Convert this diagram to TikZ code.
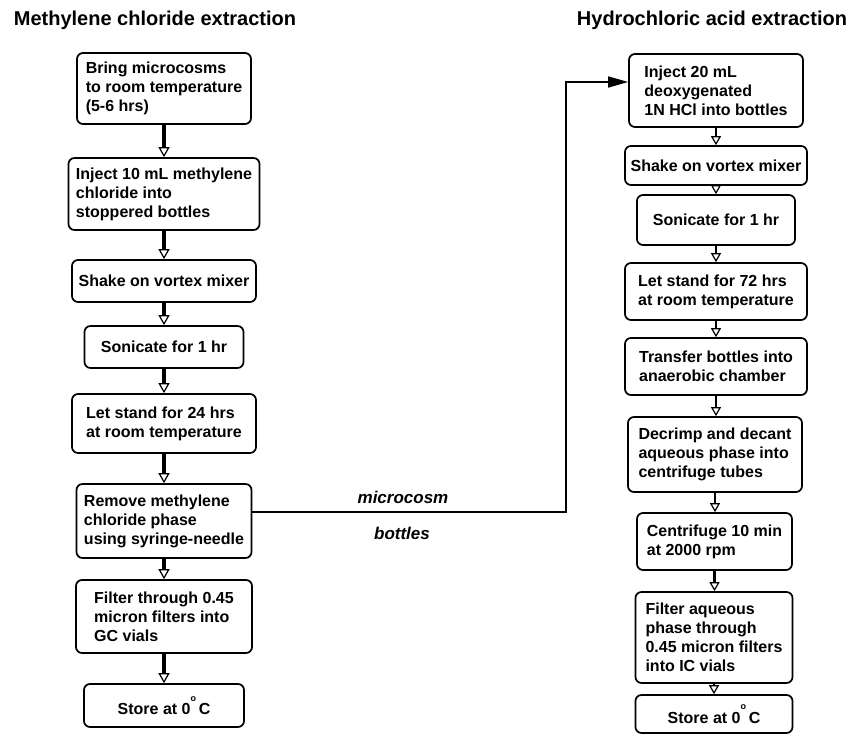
\documentclass[tikz,border=0pt]{standalone}
\usepackage{fontspec}
\setmainfont{Liberation Sans}
\usetikzlibrary{arrows.meta}
\newcommand{\degsym}{\raisebox{0.85em}{\fontsize{9}{9}\selectfont o}\,}
\begin{document}
\begin{tikzpicture}[x=1pt,y=-1pt,
  stepbox/.style={draw, line width=1.7pt, rounded corners=6pt, align=left,
    inner sep=3pt, font=\fontsize{16}{19}\selectfont\bfseries},
  flowL/.style={line width=3.4pt, -{Triangle[open, length=10pt, width=11pt, line width=1.2pt, fill=white]}},
  flowR/.style={line width=2.8pt, -{Triangle[open, length=9pt, width=10pt, line width=1.2pt, fill=white]}},
  title/.style={font=\fontsize{20}{24}\selectfont\bfseries},
  lab/.style={font=\fontsize{17}{20}\selectfont\bfseries\itshape}]
\useasboundingbox (0,0) rectangle (865,736);

% titles
\node[title] (t1) at (155,20) {Methylene chloride extraction};
\node[title] (t2) at (712,20) {Hydrochloric acid extraction};

% left column
\node[stepbox, minimum width=174pt, minimum height=71pt] (L1) at (164,88.5)
  {Bring microcosms\\to room temperature\\(5-6 hrs)};
\node[stepbox, minimum width=191pt, minimum height=72pt] (L2) at (164,194)
  {Inject 10 mL methylene\\chloride into\\stoppered bottles};
\node[stepbox, minimum width=184pt, minimum height=42pt] (L3) at (164,281)
  {Shake on vortex mixer};
\node[stepbox, minimum width=159pt, minimum height=42pt] (L4) at (164,347)
  {Sonicate for 1 hr};
\node[stepbox, minimum width=184pt, minimum height=59pt] (L5) at (164,423.5)
  {Let stand for 24 hrs\\at room temperature};
\node[stepbox, minimum width=175pt, minimum height=74pt] (L6) at (164,521)
  {Remove methylene\\chloride phase\\using syringe-needle};
\node[stepbox, minimum width=176pt, minimum height=73pt] (L7) at (164,616.5)
  {Filter through 0.45\\micron filters into\\GC vials};
\node[stepbox, minimum width=160pt, minimum height=43pt] (L8) at (164,705.5)
  {Store at 0\degsym C};

% right column
\node[stepbox, minimum width=174pt, minimum height=73pt] (R1) at (716,90.5)
  {Inject 20 mL\\deoxygenated\\1N HCl into bottles};
\node[stepbox, minimum width=182pt, minimum height=39pt] (R2) at (716,165.5)
  {Shake on vortex mixer};
\node[stepbox, minimum width=158pt, minimum height=50pt] (R3) at (716,220)
  {Sonicate for 1 hr};
\node[stepbox, minimum width=182pt, minimum height=57pt] (R4) at (716,291.5)
  {Let stand for 72 hrs\\at room temperature};
\node[stepbox, minimum width=182pt, minimum height=57pt] (R5) at (716,366.5)
  {Transfer bottles into\\anaerobic chamber};
\node[stepbox, minimum width=174pt, minimum height=75pt] (R6) at (715,454.5)
  {Decrimp and decant\\aqueous phase into\\centrifuge tubes};
\node[stepbox, minimum width=155pt, minimum height=57pt] (R7) at (714.5,541.5)
  {Centrifuge 10 min\\at 2000 rpm};
\node[stepbox, minimum width=157pt, minimum height=91pt] (R8) at (714,637.5)
  {Filter aqueous\\phase through\\0.45 micron filters\\into IC vials};
\node[stepbox, minimum width=157pt, minimum height=38pt] (R9) at (714,714)
  {Store at 0\degsym C};

% flow arrows
\foreach \a/\b in {L1/L2,L2/L3,L3/L4,L4/L5,L5/L6,L6/L7,L7/L8}
  \draw[flowL] (\a.south) -- (\b.north);
\foreach \a/\b in {R1/R2,R2/R3,R3/R4,R4/R5,R5/R6,R6/R7,R7/R8,R8/R9}
  \draw[flowR] (\a.south) -- (\a.south |- \b.north);

% connector
\coordinate (c1) at (566,512);
\coordinate (c2) at (566,82);
\draw[line width=1.7pt, -{Triangle[length=20pt, width=11pt]}]
  (L6.east |- c1) -- (c1) -- (c2) -- (R1.west |- c2);
\node[lab] (m1) at (403,497) {microcosm};
\node[lab] (m2) at (402,533) {bottles};
\end{tikzpicture}
\end{document}
